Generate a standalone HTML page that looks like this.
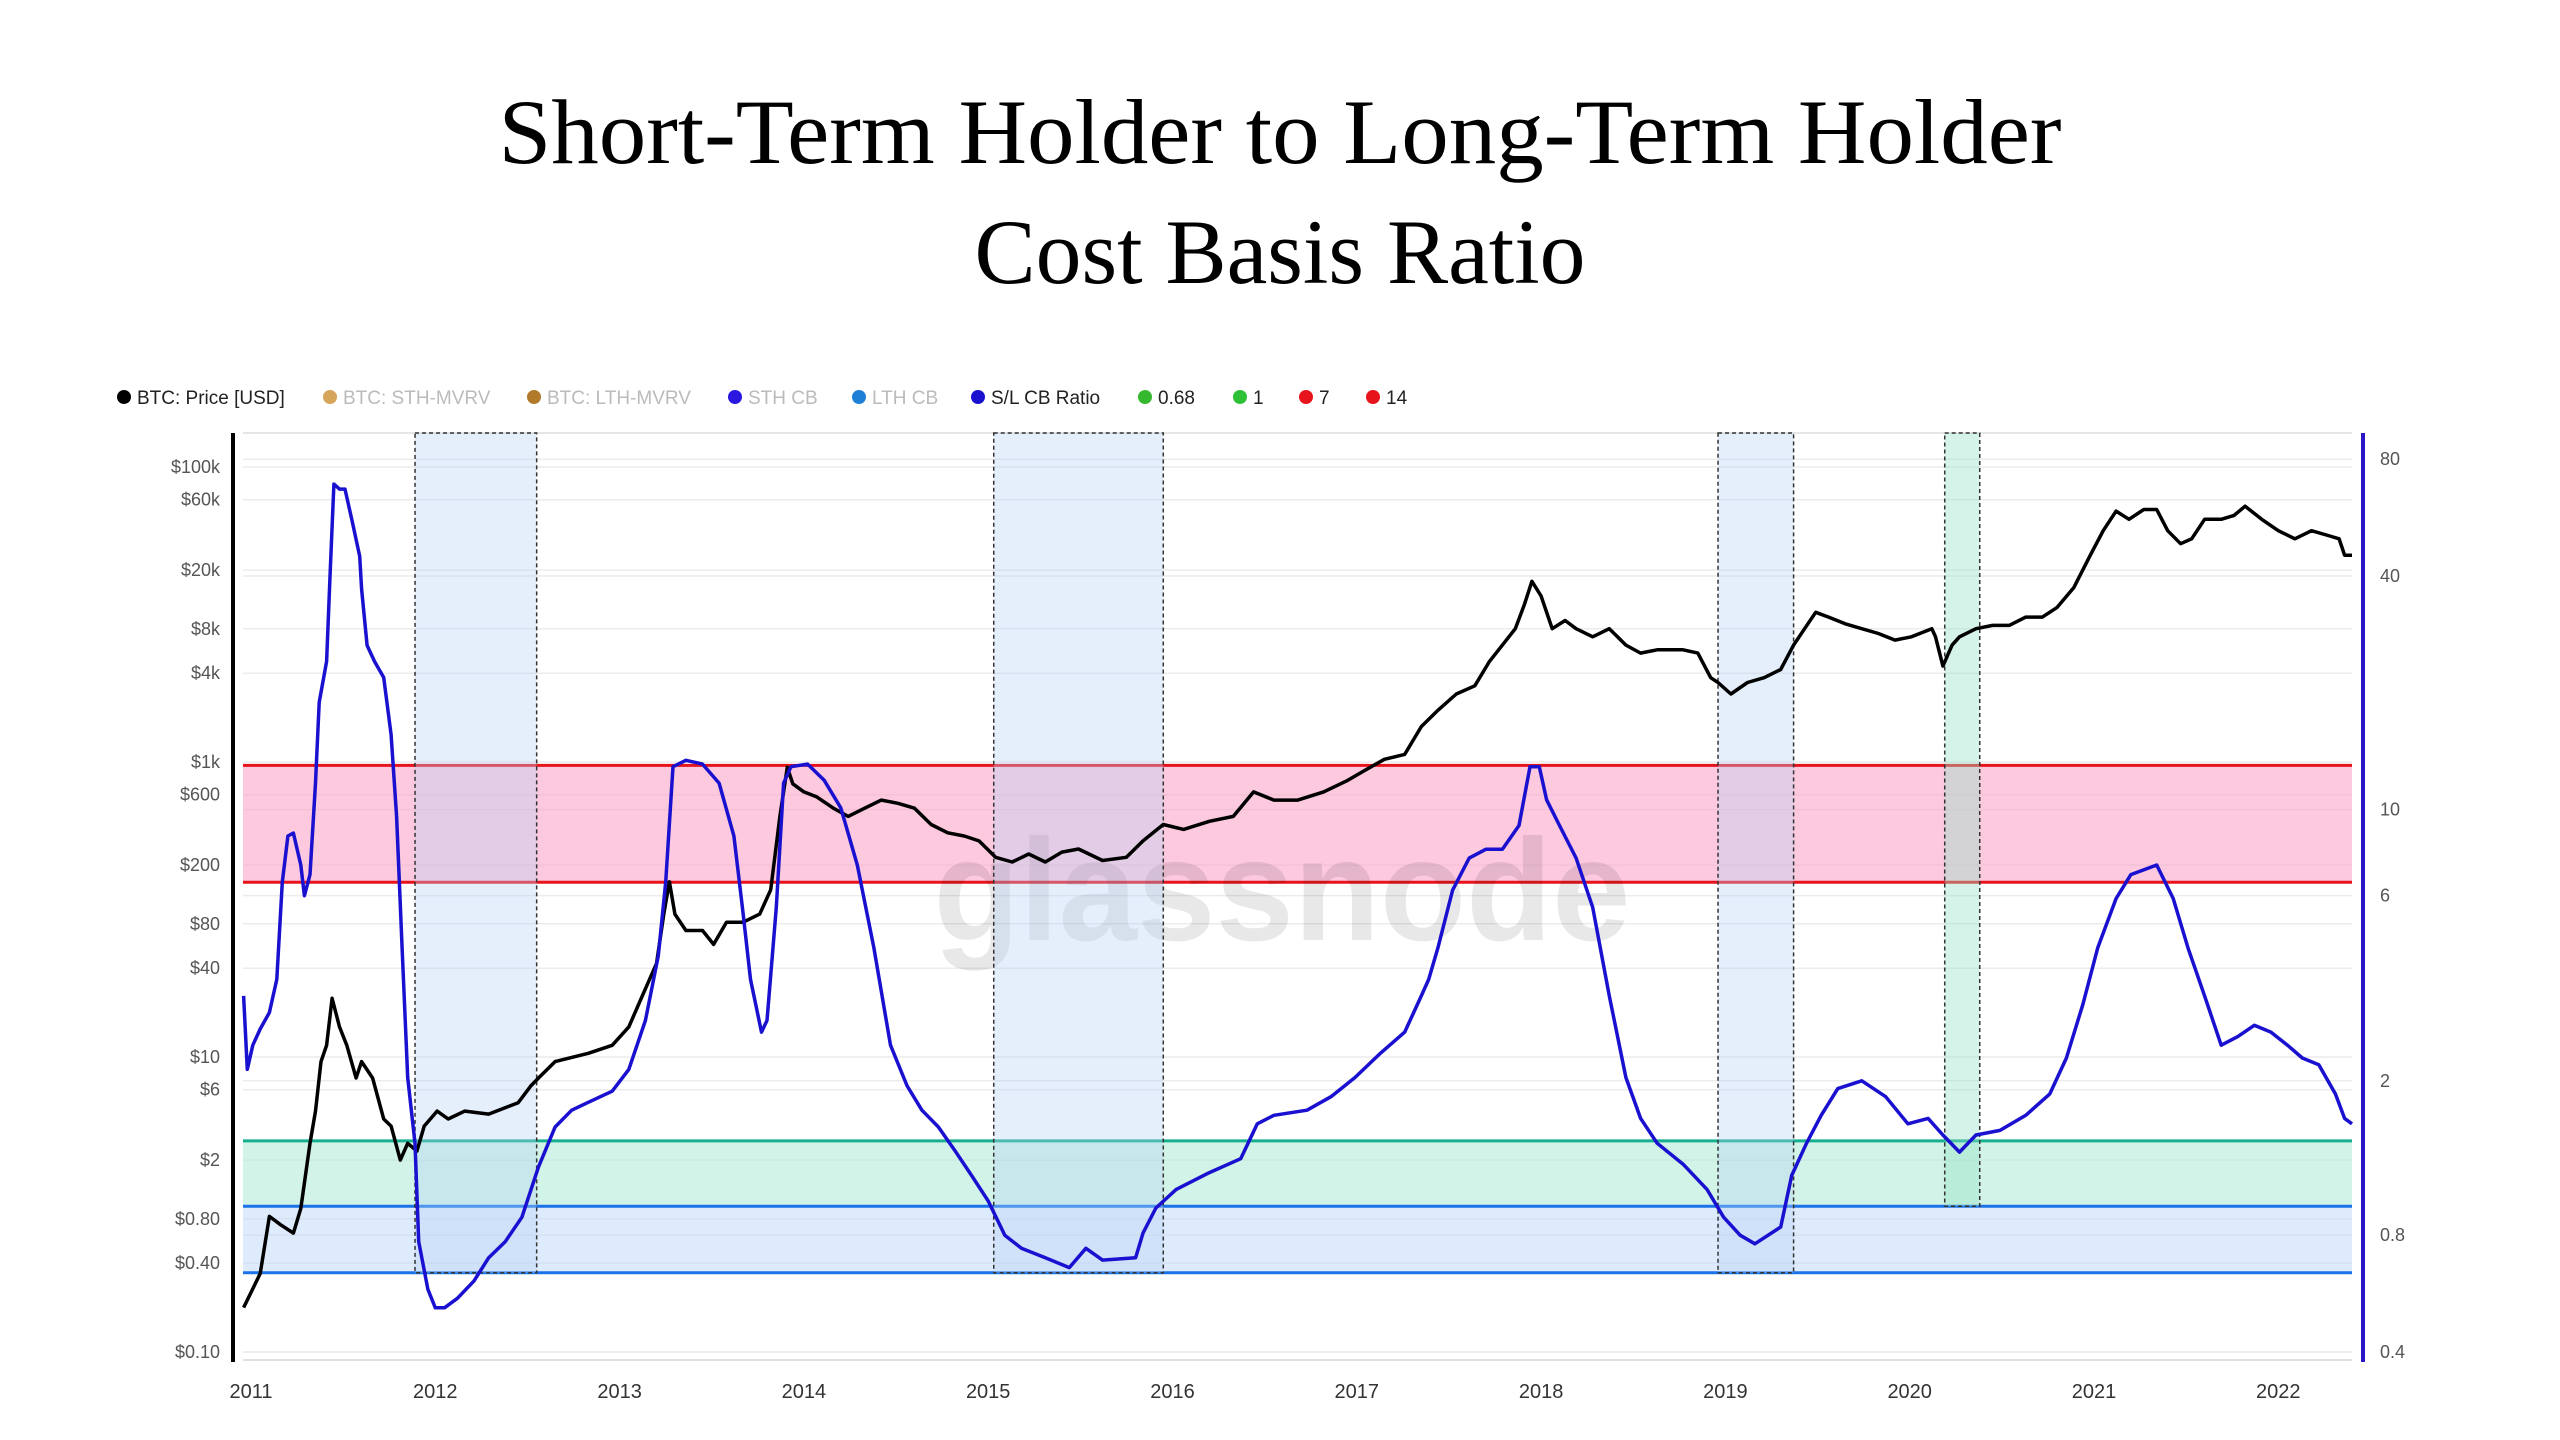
<!DOCTYPE html>
<html><head><meta charset="utf-8"><style>
html,body{margin:0;padding:0;background:#fff;}
svg{display:block;font-family:"Liberation Sans",sans-serif;}
</style></head><body>
<svg id="chart" width="2560" height="1440" viewBox="0 0 2560 1440" xmlns="http://www.w3.org/2000/svg">
<text x="1280" y="163" text-anchor="middle" font-family="Liberation Serif, serif" font-size="92" textLength="1563" lengthAdjust="spacingAndGlyphs" fill="#000">Short-Term Holder to Long-Term Holder</text>
<text x="1280" y="283" text-anchor="middle" font-family="Liberation Serif, serif" font-size="92" textLength="611" lengthAdjust="spacingAndGlyphs" fill="#000">Cost Basis Ratio</text>
<g id="legend"></g>
<g id="grid"></g>
<g id="bands"></g>
<text x="1282" y="940" text-anchor="middle" font-size="145" font-weight="bold" textLength="697" lengthAdjust="spacingAndGlyphs" fill="rgba(0,0,0,0.09)">glassnode</text>
<g id="boxes"></g>
<g id="series"></g>
<g id="axes"></g>
</svg>
<script>
const legendLabels=["BTC: Price [USD]","BTC: STH-MVRV","BTC: LTH-MVRV","STH CB","LTH CB","S/L CB Ratio","0.68","1","7","14"];
const legendColors=["#000","#d4a55a","#b07a2a","#2a17e0","#1e7fd6","#1a10d0","#36b82e","#2ec037","#e8141c","#e8141c"];
const legendTextColors=["#222","#bbb","#bbb","#bbb","#bbb","#222","#222","#222","#222","#222"];
const legendX=[124,330,534,735,859,978,1145,1240,1306,1373];

const leftTicks=[100000,60000,20000,8000,4000,1000,600,200,80,40,10,6,2,0.8,0.4,0.1];
const leftTickLabels=["$100k","$60k","$20k","$8k","$4k","$1k","$600","$200","$80","$40","$10","$6","$2","$0.80","$0.40","$0.10"];
const rightTicks=[80,40,10,6,2,0.8,0.4];
const rightTickLabels=["80","40","10","6","2","0.8","0.4"];
const xTicks=[2011,2012,2013,2014,2015,2016,2017,2018,2019,2020,2021,2022];

const redBand=[6.5,13];
const greenBand=[0.95,1.4];
const blueBand=[0.64,0.95];
const boxStart=[2011.89,2015.03,2018.96,2020.19];
const boxEnd=[2012.55,2015.95,2019.37,2020.38];
const boxBottom=[0.64,0.64,0.64,0.95];

const priceDates=[2010.96,2011.05,2011.10,2011.16,2011.23,2011.27,2011.32,2011.35,2011.38,2011.41,2011.44,2011.48,2011.52,2011.57,2011.60,2011.66,2011.72,2011.76,2011.81,2011.85,2011.90,2011.94,2012.01,2012.07,2012.16,2012.29,2012.45,2012.52,2012.56,2012.65,2012.83,2012.96,2013.05,2013.14,2013.20,2013.24,2013.27,2013.30,2013.36,2013.45,2013.51,2013.58,2013.67,2013.76,2013.82,2013.87,2013.91,2013.94,2014.00,2014.07,2014.16,2014.24,2014.33,2014.42,2014.51,2014.60,2014.69,2014.78,2014.87,2014.95,2015.04,2015.13,2015.22,2015.31,2015.40,2015.49,2015.62,2015.75,2015.84,2015.95,2016.06,2016.20,2016.33,2016.44,2016.55,2016.68,2016.82,2016.95,2017.04,2017.15,2017.26,2017.35,2017.44,2017.54,2017.64,2017.72,2017.79,2017.86,2017.91,2017.95,2018.00,2018.06,2018.13,2018.19,2018.28,2018.37,2018.46,2018.54,2018.63,2018.77,2018.85,2018.92,2018.96,2019.03,2019.12,2019.21,2019.30,2019.37,2019.43,2019.49,2019.56,2019.65,2019.74,2019.83,2019.92,2020.01,2020.12,2020.14,2020.18,2020.23,2020.27,2020.36,2020.45,2020.54,2020.63,2020.72,2020.80,2020.89,2020.98,2021.05,2021.12,2021.19,2021.27,2021.34,2021.40,2021.47,2021.53,2021.60,2021.69,2021.76,2021.82,2021.91,2022.00,2022.09,2022.18,2022.27,2022.33,2022.36,2022.40];
const priceValues=[0.20,0.34,0.83,0.73,0.64,0.94,2.6,4.3,9.3,12,25,16,12,7.2,9.3,7.2,3.8,3.4,2.0,2.6,2.3,3.4,4.3,3.8,4.3,4.1,4.9,6.4,7.2,9.3,10.6,12,16,29,43,93,154,93,72,72,58,82,82,93,136,428,920,711,627,580,486,428,486,552,525,486,377,331,315,292,226,210,238,210,245,257,215,226,292,377,349,396,428,627,552,552,627,750,873,1043,1126,1738,2240,2890,3285,4810,6200,8010,11750,16800,13340,8010,9100,8010,7060,8010,6200,5470,5760,5760,5470,3730,3460,2890,3460,3730,4240,6200,8010,10350,9600,8650,8010,7430,6710,7060,8010,7060,4470,6200,7060,8010,8430,8430,9600,9600,11170,15170,25240,37000,50200,44200,51500,51500,37000,30200,32600,44200,44200,47000,54200,44200,37000,32600,37000,34300,32600,25240,25240];

const ratioDates=[2010.96,2010.98,2011.01,2011.05,2011.10,2011.14,2011.17,2011.20,2011.23,2011.27,2011.29,2011.32,2011.35,2011.37,2011.41,2011.43,2011.45,2011.48,2011.51,2011.55,2011.59,2011.60,2011.63,2011.67,2011.72,2011.76,2011.79,2011.82,2011.85,2011.89,2011.91,2011.96,2012.00,2012.05,2012.12,2012.21,2012.29,2012.38,2012.47,2012.56,2012.65,2012.74,2012.83,2012.96,2013.05,2013.14,2013.21,2013.25,2013.29,2013.36,2013.45,2013.54,2013.62,2013.67,2013.71,2013.77,2013.80,2013.85,2013.89,2013.93,2014.02,2014.11,2014.20,2014.29,2014.38,2014.47,2014.56,2014.64,2014.73,2014.82,2014.91,2015.00,2015.09,2015.18,2015.31,2015.44,2015.53,2015.62,2015.80,2015.84,2015.91,2016.02,2016.20,2016.37,2016.46,2016.55,2016.73,2016.86,2016.99,2017.13,2017.26,2017.35,2017.39,2017.44,2017.52,2017.61,2017.70,2017.79,2017.88,2017.94,2017.99,2018.03,2018.10,2018.19,2018.28,2018.37,2018.46,2018.54,2018.63,2018.77,2018.90,2018.99,2019.08,2019.16,2019.30,2019.36,2019.44,2019.52,2019.61,2019.74,2019.87,2019.99,2020.10,2020.18,2020.27,2020.36,2020.49,2020.63,2020.76,2020.85,2020.94,2021.02,2021.12,2021.20,2021.34,2021.43,2021.51,2021.60,2021.69,2021.78,2021.87,2021.96,2022.05,2022.13,2022.22,2022.31,2022.36,2022.40];
const ratioValues=[3.31,2.14,2.47,2.72,3.0,3.65,6.5,8.55,8.7,7.2,6.0,6.8,11.7,18.9,24.1,41,69,67,67,55,45,37,26.5,24.1,21.9,15.6,9.6,4.4,2.04,1.38,0.77,0.58,0.52,0.52,0.55,0.61,0.70,0.77,0.89,1.2,1.52,1.68,1.76,1.88,2.14,2.86,4.2,6.5,12.9,13.4,13.1,11.7,8.55,5.4,3.65,2.67,2.86,5.6,11.7,12.9,13.1,11.9,10.1,7.2,4.4,2.47,1.94,1.68,1.52,1.32,1.14,0.98,0.80,0.74,0.70,0.66,0.74,0.69,0.70,0.81,0.94,1.05,1.16,1.26,1.55,1.63,1.68,1.82,2.04,2.36,2.67,3.31,3.65,4.4,6.2,7.5,7.9,7.9,9.1,12.9,12.9,10.6,9.1,7.5,5.6,3.31,2.04,1.6,1.38,1.22,1.05,0.89,0.80,0.76,0.84,1.14,1.38,1.63,1.91,2.0,1.82,1.55,1.6,1.45,1.31,1.45,1.49,1.63,1.85,2.29,3.15,4.4,5.9,6.8,7.2,5.9,4.4,3.31,2.47,2.6,2.78,2.67,2.47,2.29,2.2,1.85,1.6,1.55];

const NS="http://www.w3.org/2000/svg";
const X0=251, PXY=184.3;
function xs(y){return X0+(y-2011)*PXY;}
function yl(p){return 1352-147.5*Math.log10(p/0.1);}
function yr(v){return 1352-388*Math.log10(v/0.4);}
const PL=243, PR=2352, PT=433, PB=1362;
function mk(tag,attrs,parent,text){const e=document.createElementNS(NS,tag);for(const k in attrs)e.setAttribute(k,attrs[k]);if(text!==undefined)e.textContent=text;parent.appendChild(e);return e;}

const legend=document.getElementById('legend');
legendLabels.forEach((l,i)=>{
  const c=mk('circle',{cx:legendX[i],cy:397,r:7,fill:legendColors[i]},legend);
  
  
  const t=mk('text',{x:legendX[i]+13,y:404,'font-size':19,fill:legendTextColors[i]},legend,l);
  
  
});

const grid=document.getElementById('grid');
mk('line',{x1:PL,x2:PR,y1:PT,y2:PT,stroke:'#e6e6e6','stroke-width':2},grid);
leftTicks.forEach((v,i)=>{
  const y=yl(v);
  const g=mk('line',{x1:PL,x2:PR,y1:y,y2:y,stroke:'#ececec','stroke-width':1.5},grid);
  
  
  const t=mk('text',{x:220,y:y+6,'text-anchor':'end','font-size':18,fill:'#555'},grid,leftTickLabels[i]);
  
  
});
rightTicks.forEach((v,i)=>{
  const y=yr(v);
  const g=mk('line',{x1:PL,x2:PR,y1:y,y2:y,stroke:'#ececec','stroke-width':1.5},grid);
  
  
  const t=mk('text',{x:2380,y:y+6,'font-size':18,fill:'#555'},grid,rightTickLabels[i]);
  
  
});
xTicks.forEach(v=>{
  const t=mk('text',{x:xs(v),y:1398,'text-anchor':'middle','font-size':20,fill:'#333'},grid,String(v));
  
  
});

const bands=document.getElementById('bands');
function band(lo,hi,fill,name){const r=mk('rect',{x:PL,y:yr(hi),width:PR-PL,height:yr(lo)-yr(hi),fill:fill},bands);}
band(redBand[0],redBand[1],'rgba(250,165,200,0.6)','band-red');
band(greenBand[0],greenBand[1],'rgba(180,235,215,0.6)','band-green');
band(blueBand[0],blueBand[1],'rgba(190,215,250,0.5)','band-blue');
function hl(v,c,name){const l=mk('line',{x1:PL,x2:PR,y1:yr(v),y2:yr(v),stroke:c,'stroke-width':3},bands);}
hl(redBand[1],'#e8141c','line-14');
hl(redBand[0],'#e8141c','line-7');
hl(greenBand[1],'#14b08f','line-green-top');
hl(greenBand[0],'#1a73e8','line-1');
hl(blueBand[0],'#1a73e8','line-068');

const boxes=document.getElementById('boxes');
boxStart.forEach((s,i)=>{
  const x1=xs(s),x2=xs(boxEnd[i]);
  const r=mk('rect',{x:x1,y:PT,width:x2-x1,height:yr(boxBottom[i])-PT,fill:i===3?'rgba(150,225,200,0.4)':'rgba(180,210,245,0.35)',stroke:'#333','stroke-width':1.5,'stroke-dasharray':'4 3'},boxes);
  
  
});

const series=document.getElementById('series');
const pp=priceDates.map((d,i)=>xs(d).toFixed(1)+','+yl(priceValues[i]).toFixed(1)).join(' ');
const pl=mk('polyline',{points:pp,fill:'none',stroke:'#000','stroke-width':3.5,'stroke-linejoin':'round'},series);


const rp=ratioDates.map((d,i)=>xs(d).toFixed(1)+','+yr(ratioValues[i]).toFixed(1)).join(' ');
const rl=mk('polyline',{points:rp,fill:'none',stroke:'#1a10d0','stroke-width':3.5,'stroke-linejoin':'round'},series);



const axes=document.getElementById('axes');
const la=mk('line',{x1:233,x2:233,y1:PT,y2:PB,stroke:'#000','stroke-width':4},axes);


const ra=mk('line',{x1:2363,x2:2363,y1:PT,y2:PB,stroke:'#2b17c6','stroke-width':4},axes);


mk('line',{x1:PL,x2:PR,y1:PB-2,y2:PB-2,stroke:'#e0e0e0','stroke-width':2},axes);
</script>
</body></html>
